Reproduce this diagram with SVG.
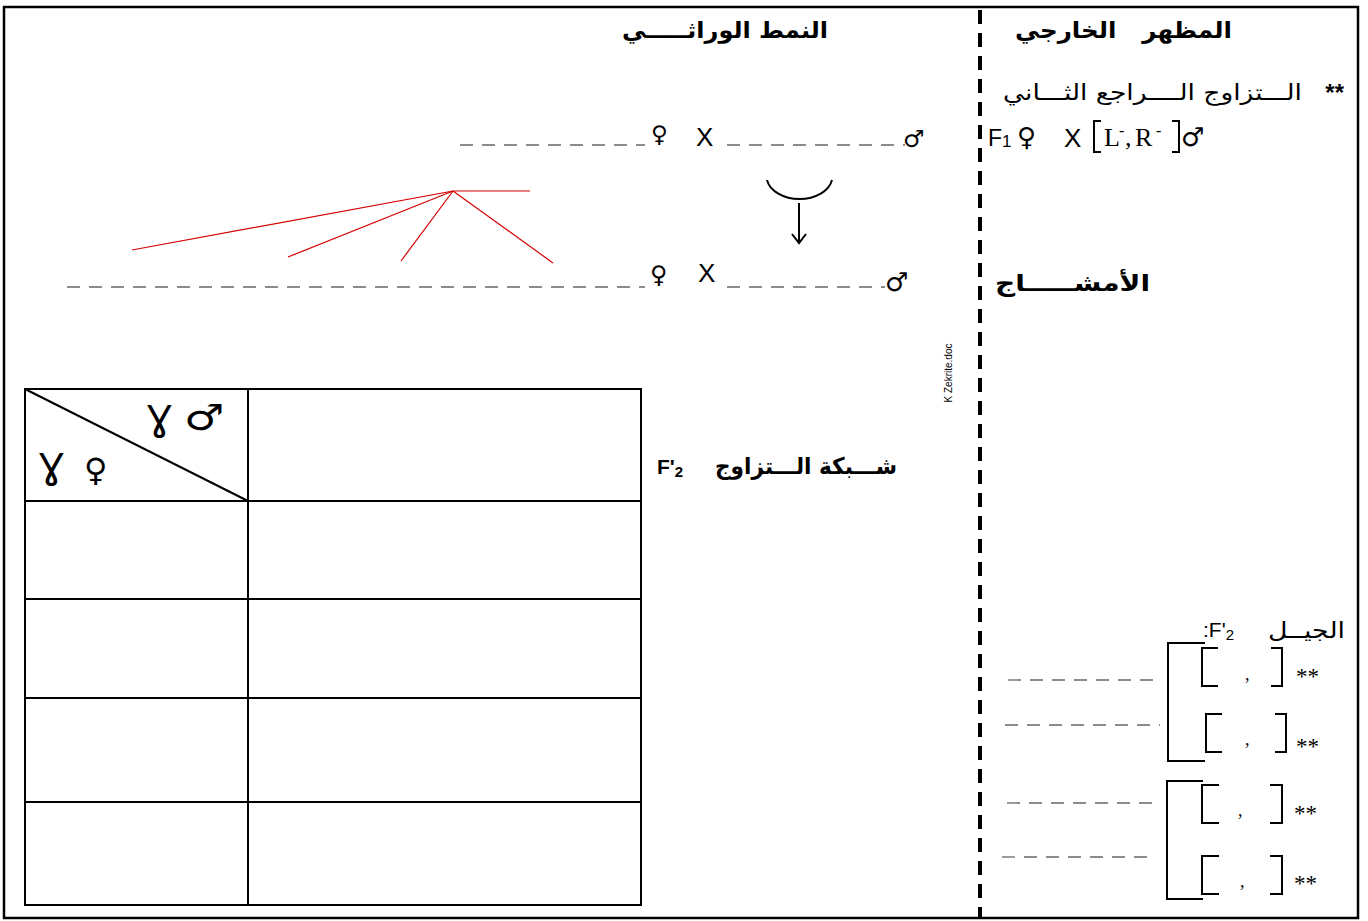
<svg xmlns="http://www.w3.org/2000/svg" width="1368" height="921" viewBox="0 0 1368 921">
<style>
text{font-family:"Liberation Sans","DejaVu Sans",Arial,sans-serif;fill:#000}
.ar{font-family:"DejaVu Sans","Noto Sans",sans-serif;font-size:22px;white-space:pre}
.arb{font-family:"DejaVu Sans","Noto Sans",sans-serif;font-size:23px;font-weight:bold;white-space:pre}
.sym{font-family:"DejaVu Sans",sans-serif}
.ser{font-family:"Liberation Serif","Times New Roman",serif}
.dash{stroke:#666;stroke-width:1.3;stroke-dasharray:13 9;fill:none}
.ln{stroke:#000;stroke-width:2;fill:none}
.br{stroke:#000;stroke-width:2;fill:none}
.red{stroke:#d40000;stroke-width:1.2;fill:none}
</style>
<rect x="4" y="7" width="1354" height="911" fill="#fff" stroke="#000" stroke-width="2.5"/>
<line x1="980" y1="10" x2="980" y2="918" stroke="#000" stroke-width="4" stroke-dasharray="14 9"/>

<g id="headers">
<text x="1232" y="38" text-anchor="end" class="arb" textLength="217" lengthAdjust="spacingAndGlyphs">المظهر   الخارجي</text>
<text x="828" y="38" text-anchor="end" class="arb" textLength="206" lengthAdjust="spacingAndGlyphs">النمط الوراثـــــي</text>
</g>

<g id="cross2-title">
<text x="1344" y="101" text-anchor="end" font-size="24" font-weight="bold">**</text>
<text x="1302" y="100" text-anchor="end" class="ar" textLength="299" lengthAdjust="spacingAndGlyphs">الـــتزاوج الــــراجع الثـــاني</text>
</g>

<g id="cross2-phenotype">
<text x="988" y="146" font-size="23">F<tspan font-size="17" dy="1">1</tspan></text>
<text x="1017" y="146" class="sym" font-size="26">♀</text>
<text x="1064" y="147" font-size="26">X</text>
<path class="br" d="M1101,121 H1094 V152 H1101"/>
<text x="1104" y="146" class="ser" font-size="26">L</text>
<text x="1119" y="136" class="ser" font-size="16">-</text>
<text x="1125" y="146" class="ser" font-size="26">,</text>
<text x="1135" y="146" class="ser" font-size="26">R</text>
<text x="1156" y="136" class="ser" font-size="16">-</text>
<path class="br" d="M1172,121 H1179 V152 H1172"/>
<text x="1181" y="146" class="sym" font-size="26">♂</text>
</g>

<g id="genotype-parents">
<line class="dash" x1="460" y1="145" x2="645" y2="145"/>
<text x="651" y="142" class="sym" font-size="23">♀</text>
<text x="696" y="146" font-size="26">X</text>
<line class="dash" x1="727" y1="145" x2="905" y2="145"/>
<text x="903" y="147" class="sym" font-size="24">♂</text>
</g>

<g id="meiosis-arrow">
<path class="ln" stroke-width="1.8" d="M767,180 A33,23 0 0 0 832,180"/>
<line class="ln" stroke-width="1.8" x1="799" y1="203" x2="799" y2="243"/>
<path class="ln" stroke-width="1.8" d="M792,234 L799,243 L806,234"/>
</g>

<g id="red-lines">
<line class="red" x1="453" y1="191" x2="530" y2="191"/>
<line class="red" x1="453" y1="191" x2="132" y2="250"/>
<line class="red" x1="453" y1="191" x2="288" y2="257"/>
<line class="red" x1="453" y1="191" x2="401" y2="261"/>
<line class="red" x1="453" y1="191" x2="553" y2="263"/>
</g>

<g id="genotype-gametes">
<line class="dash" x1="67" y1="287" x2="645" y2="287"/>
<text x="650" y="283" class="sym" font-size="24">♀</text>
<text x="698" y="282" font-size="26">X</text>
<line class="dash" x1="727" y1="287" x2="885" y2="287"/>
<text x="885" y="291" class="sym" font-size="26">♂</text>
</g>

<g id="gametes-label">
<text x="1150" y="291" text-anchor="end" class="arb" textLength="155" lengthAdjust="spacingAndGlyphs">الأمشـــــاج</text>
</g>

<text transform="translate(952,373) rotate(-90)" text-anchor="middle" font-size="10">K Zekrite.doc</text>

<g id="punnett">
<rect x="25" y="389" width="616" height="516" class="ln"/>
<line class="ln" x1="248" y1="389" x2="248" y2="905"/>
<line class="ln" x1="25" y1="501" x2="641" y2="501"/>
<line class="ln" x1="25" y1="599" x2="641" y2="599"/>
<line class="ln" x1="25" y1="698" x2="641" y2="698"/>
<line class="ln" x1="25" y1="802" x2="641" y2="802"/>
<line class="ln" stroke-width="1.6" x1="25" y1="389" x2="248" y2="501"/>
<text x="147" y="431" class="sym" font-size="36">Ɣ</text>
<text transform="translate(184,430) scale(1.25,1)" class="sym" font-size="36">♂</text>
<text x="39" y="479" class="sym" font-size="36">Ɣ</text>
<text x="84" y="481" class="sym" font-size="32">♀</text>
</g>

<g id="punnett-label">
<text x="897" y="474" text-anchor="end" class="arb" textLength="182" lengthAdjust="spacingAndGlyphs">شـــبكة الـــتزاوج</text>
<text x="657" y="474" font-size="21" font-weight="bold">F'<tspan font-size="15" dy="3">2</tspan></text>
</g>

<g id="f2-label">
<text x="1345" y="638" text-anchor="end" class="ar" textLength="77" lengthAdjust="spacingAndGlyphs">الجيــل</text>
<text x="1203" y="637" font-size="21">:F'<tspan font-size="15" dy="3">2</tspan></text>
</g>

<g id="f2-group1">
<path class="br" d="M1205,643 H1168 V761 H1205"/>
<line class="dash" x1="1008" y1="680" x2="1160" y2="680"/>
<line class="dash" x1="1005" y1="725" x2="1160" y2="725"/>
<path class="br" d="M1218,648 H1202 V686 H1218"/>
<path class="br" d="M1271,648 H1282 V686 H1271"/>
<text x="1245" y="680" class="ser" font-size="18">,</text>
<text x="1296" y="684" class="ser" font-size="23">**</text>
<path class="br" d="M1222,714 H1206 V752 H1222"/>
<path class="br" d="M1275,714 H1286 V752 H1275"/>
<text x="1245" y="745" class="ser" font-size="18">,</text>
<text x="1296" y="754" class="ser" font-size="23">**</text>
</g>

<g id="f2-group2">
<path class="br" d="M1203,781 H1167 V899 H1203"/>
<line class="dash" x1="1007" y1="803" x2="1157" y2="803"/>
<line class="dash" x1="1002" y1="857" x2="1155" y2="857"/>
<path class="br" d="M1219,785 H1202 V823 H1219"/>
<path class="br" d="M1270,785 H1282 V823 H1270"/>
<text x="1238" y="816" class="ser" font-size="18">,</text>
<text x="1294" y="821" class="ser" font-size="23">**</text>
<path class="br" d="M1219,856 H1202 V894 H1219"/>
<path class="br" d="M1270,856 H1282 V894 H1270"/>
<text x="1240" y="887" class="ser" font-size="18">,</text>
<text x="1294" y="891" class="ser" font-size="23">**</text>
</g>
</svg>
